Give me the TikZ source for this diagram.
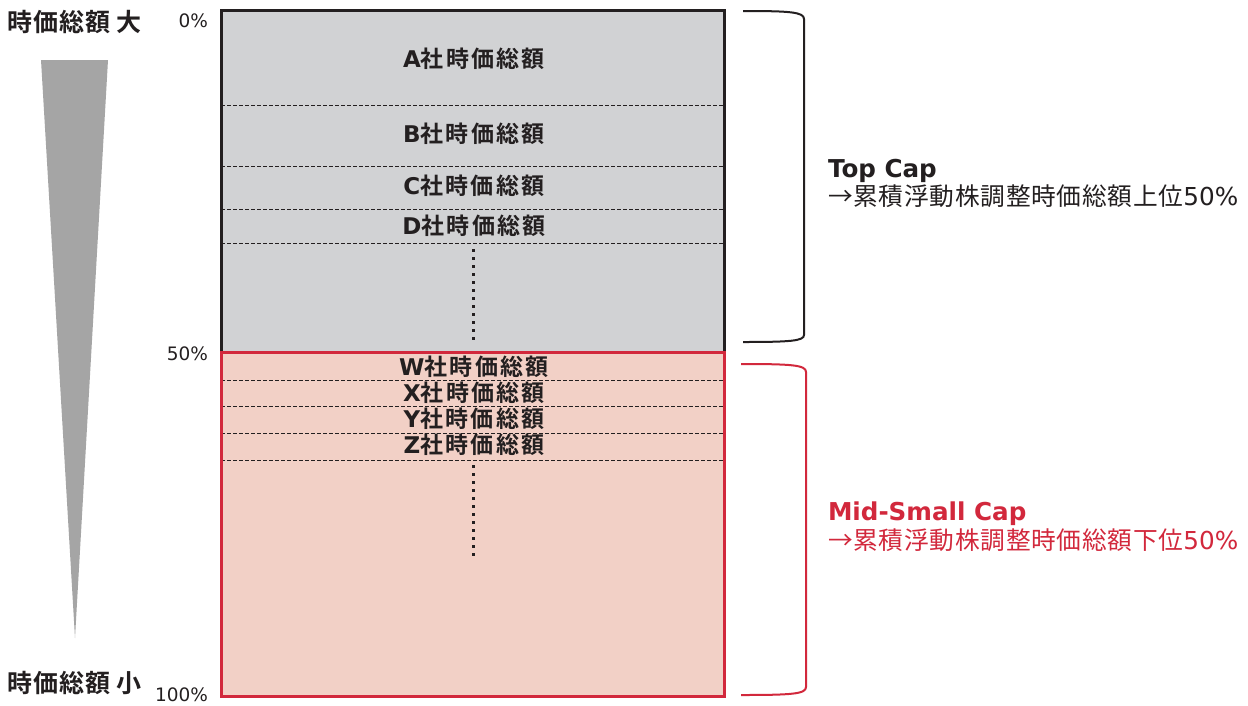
\documentclass[tikz,border=0pt]{standalone}
\usepackage{fontspec}
\setmainfont{DejaVu Sans}
\newfontfamily\jpfont[LetterSpace=3,BoldFont={Noto Sans CJK JP Bold}]{Noto Sans CJK JP}
\newfontfamily\jpboxfont[LetterSpace=10,BoldFont={Noto Sans CJK JP Bold}]{Noto Sans CJK JP}
\usepackage{tikz}

\tikzset{
  boxlabel/.style={text=textColor,anchor=base,inner sep=0pt,outer sep=0pt,font=\bfseries\fontsize{23}{27}\selectfont},
  pctlabel/.style={text=textColor,anchor=base east,inner sep=0pt,outer sep=0pt,font=\fontsize{18.5}{22}\selectfont},
  sidelabel/.style={anchor=base west,inner sep=0pt,outer sep=0pt,font=\fontsize{24.7}{29}\selectfont},
  capname/.style={sidelabel,font=\bfseries\fontsize{24.6}{29}\selectfont},
  endlabel/.style={sidelabel,text=textColor,font=\bfseries\fontsize{25}{29}\selectfont},
  divline/.style={draw=textColor,line width=1pt,dash pattern=on 4pt off 2pt},
  dotline/.style={draw=textColor,line width=3pt,dash pattern=on 3pt off 5pt}
}

\begin{document}
\begin{tikzpicture}[x=1pt,y=-1pt]
\definecolor{textColor}{RGB}{35,31,32}
\definecolor{grayFill}{RGB}{209,210,212}
\definecolor{pinkFill}{RGB}{242,208,198}
\definecolor{redColor}{RGB}{210,40,60}
\definecolor{wedgeColor}{RGB}{165,165,165}
\path[use as bounding box,fill=white] (0,0) rectangle (1248,705);

% size wedge
\path[fill=wedgeColor] (41,60) -- (108,60) -- (75,638) -- cycle;
\node[endlabel] (bigLabel) at (8,31) {\jpfont 時価総額 大};
\node[endlabel] (smallLabel) at (8,692) {\jpfont 時価総額 小};

% percent marks
\node[pctlabel] (pct0) at (208,27) {0\%};
\node[pctlabel] (pct50) at (208,360) {50\%};
\node[pctlabel] (pct100) at (208,701) {100\%};

% stacked market caps
\path[fill=grayFill] (221,10) rectangle (724,352);
\path[fill=pinkFill] (221,352) rectangle (724,696);

\path[divline] (221,105) -- (724,105);
\path[divline] (221,166) -- (724,166);
\path[divline] (221,209) -- (724,209);
\path[divline] (221,243) -- (724,243);
\path[divline] (221,380) -- (724,380);
\path[divline] (221,406) -- (724,406);
\path[divline] (221,433) -- (724,433);
\path[divline] (221,460) -- (724,460);

\path[dotline] (473,249) -- (473,344);
\path[dotline] (473,465) -- (473,560);

\node[boxlabel] (capA) at (474,67) {A\jpboxfont 社時価総額};
\node[boxlabel] (capB) at (474,142) {B\jpboxfont 社時価総額};
\node[boxlabel] (capC) at (474,194) {C\jpboxfont 社時価総額};
\node[boxlabel] (capD) at (474,234) {D\jpboxfont 社時価総額};
\node[boxlabel] (capW) at (474,375) {W\jpboxfont 社時価総額};
\node[boxlabel] (capX) at (474,401) {X\jpboxfont 社時価総額};
\node[boxlabel] (capY) at (474,427) {Y\jpboxfont 社時価総額};
\node[boxlabel] (capZ) at (474,453) {Z\jpboxfont 社時価総額};

\path[draw=textColor,line width=3pt] (221,10) rectangle (724,352);
\path[draw=redColor,line width=3pt] (221,352) rectangle (724,696);

% brackets
\path[draw=textColor,line width=2pt] (743,11) .. controls (790,11) and (804,12) .. (804,19) --
	(804,335) .. controls (804,341) and (790,342) .. (743,342);
\path[draw=redColor,line width=2pt] (741,364) .. controls (792,364) and (806,365) .. (806,372) --
	(806,687) .. controls (806,694) and (792,695) .. (741,695);

\node[capname,text=textColor] (topCap) at (828,177) {Top Cap};
\node[sidelabel,text=textColor] (topRule) at (828,205) {\jpfont →累積浮動株調整時価総額上位\normalfont 50\%};
\node[capname,text=redColor] (midCap) at (828,520) {Mid-Small Cap};
\node[sidelabel,text=redColor] (midRule) at (828,549) {\jpfont →累積浮動株調整時価総額下位\normalfont 50\%};
\end{tikzpicture}
\end{document}
